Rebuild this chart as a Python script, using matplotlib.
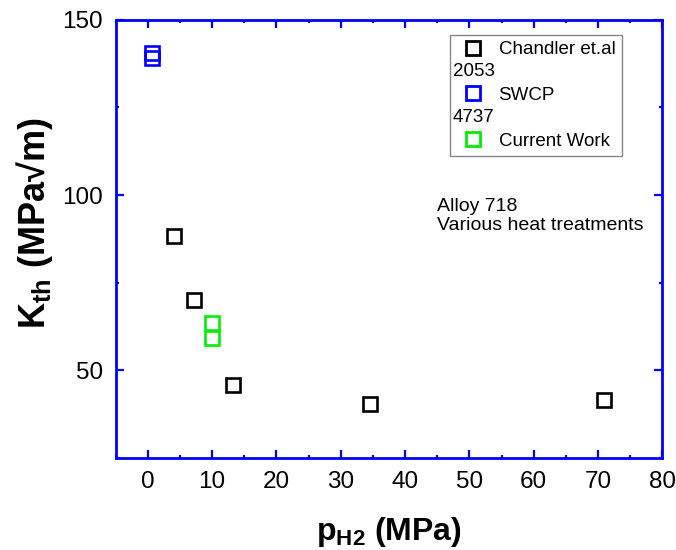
import matplotlib
matplotlib.use("Agg")
import matplotlib.pyplot as plt
from matplotlib.lines import Line2D
from matplotlib.ticker import MultipleLocator

plt.rcParams['font.family'] = ['Liberation Sans', 'DejaVu Sans']
plt.rcParams['mathtext.fontset'] = 'custom'
plt.rcParams['mathtext.rm'] = 'Liberation Sans:bold'
plt.rcParams['mathtext.it'] = 'Liberation Sans:bold'
plt.rcParams['mathtext.bf'] = 'Liberation Sans:bold'
plt.rcParams['mathtext.default'] = 'rm'

# Data
chandler_p = [4.1, 7.1, 13.2, 34.5, 70.9]
chandler_k = [88.3, 70.0, 45.9, 40.4, 41.5]
swcp_p = [0.7, 0.7]
swcp_k = [140.4, 139.2]
current_p = [9.9, 9.9]
current_k = [63.4, 59.1]

series_labels = ["Chandler et.al", "SWCP", "Current Work"]
extra_labels = ["2053", "4737"]
x_ticks = [0, 10, 20, 30, 40, 50, 60, 70, 80]
y_ticks = [50, 100, 150]

W, H = 676, 550
fig = plt.figure(figsize=(W / 100, H / 100), dpi=100)
ax_l, ax_r, ax_t, ax_b = 115.7, 662.3, 19.75, 458.0
ax = fig.add_axes([ax_l / W, 1 - ax_b / H, (ax_r - ax_l) / W, (ax_b - ax_t) / H])

mk = dict(marker='s', linestyle='none', markersize=10.5, markeredgewidth=1.9,
          markerfacecolor='none')
ax.plot(chandler_p, chandler_k, markeredgecolor='black', **mk)
ax.plot(swcp_p, swcp_k, markeredgecolor='#0000ff', **mk)
ax.plot(current_p, current_k, markeredgecolor='#00ee00', **mk)

ax.set_xlim(-5, 80)
ax.set_ylim(25, 150)
ax.set_xticks(x_ticks)
ax.set_yticks(y_ticks)
ax.xaxis.set_minor_locator(MultipleLocator(5))
ax.yaxis.set_minor_locator(MultipleLocator(25))

blue = '#0000ff'
for s in ax.spines.values():
    s.set_color(blue)
    s.set_linewidth(2.0)
ax.tick_params(which='both', direction='in', top=True, right=True,
               color=blue, width=1.6, labelsize=17.5, labelcolor='black', pad=9)
ax.tick_params(which='major', length=5.5)
ax.tick_params(which='minor', length=2.5)

ax.set_xlabel(r'p$_{\mathrm{H2}}$ (MPa)', fontsize=23, fontweight='bold', labelpad=16)
ax.set_ylabel(r'K$_{\mathrm{th}}$ (MPa√m)', fontsize=26, fontweight='bold')
ax.yaxis.set_label_coords((55 - ax_l) / (ax_r - ax_l), (ax_b - 223) / (ax_b - ax_t))

ax.text(44.9, 94.0, "Alloy 718\nVarious heat treatments", fontsize=14,
        ha='left', va='center', linespacing=1.12)

lmk = dict(marker='s', linestyle='none', markersize=10, markeredgewidth=2.0,
           markerfacecolor='none')
handles = [Line2D([], [], markeredgecolor='black', **lmk),
           Line2D([], [], markeredgecolor=blue, **lmk),
           Line2D([], [], markeredgecolor='#00ee00', **lmk)]
leg = ax.legend(handles, series_labels, loc='upper left',
                bbox_to_anchor=((450 - ax_l) / (ax_r - ax_l), (ax_b - 35) / (ax_b - ax_t)),
                borderaxespad=0, fontsize=13.5, frameon=True, fancybox=False,
                edgecolor='#888888', framealpha=1, borderpad=0.33,
                handlelength=1.76, handletextpad=0.5, labelspacing=1.52)
leg.get_frame().set_linewidth(1.0)

for lbl, ypx in zip(extra_labels, [71.7, 117.7]):
    ax.text((452.7 - ax_l) / (ax_r - ax_l), (ax_b - ypx) / (ax_b - ax_t), lbl,
            transform=ax.transAxes, fontsize=13.5, ha='left', va='center', zorder=10)

fig.savefig("out.png", dpi=100)
